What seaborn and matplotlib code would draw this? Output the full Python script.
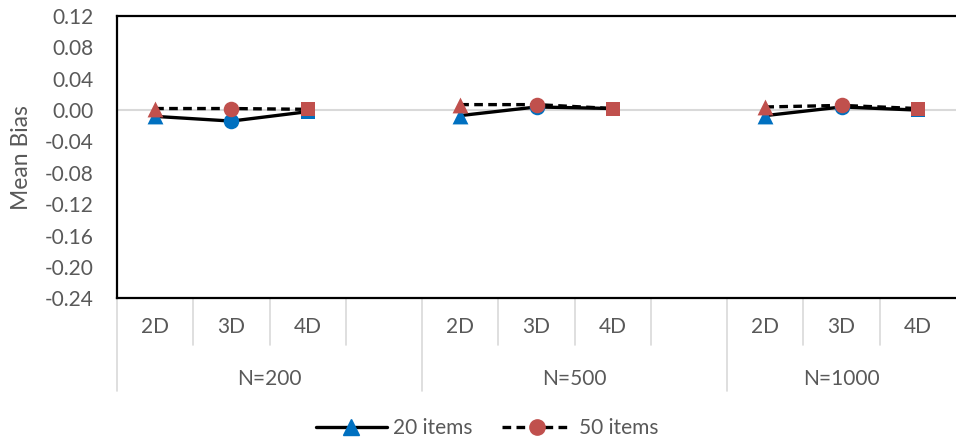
import numpy as np
import pandas as pd
import seaborn as sns
import matplotlib.pyplot as plt
import matplotlib.transforms as mtransforms
from matplotlib.lines import Line2D

# ---- data -------------------------------------------------------------
sample_sizes = ["N=200", "N=500", "N=1000"]
dimensions = ["2D", "3D", "4D"]
series_names = ["20 items", "50 items"]
bias_20_items = [-0.008, -0.014, -0.002, -0.007, 0.004, 0.002, -0.007, 0.004, 0.000]
bias_50_items = [0.002, 0.002, 0.001, 0.007, 0.007, 0.002, 0.004, 0.006, 0.002]
y_ticks = [-0.24, -0.20, -0.16, -0.12, -0.08, -0.04, 0.00, 0.04, 0.08, 0.12]

# ---- style ------------------------------------------------------------
sns.set_theme(style="white")
plt.rcParams["font.family"] = ["Lato", "DejaVu Sans"]
plt.rcParams["axes.unicode_minus"] = False

TEXT = "#595959"
GRID = "#d9d9d9"
BLUE = "#0070C0"
RED = "#C0504D"
FS = 15
marker_map = {"2D": "^", "3D": "o", "4D": "s"}
marker_size = {"2D": 130, "3D": 125, "4D": 115}

# tidy table: each sample-size block takes 4 slots (3 dims + a spacer)
rows = []
for name, values in zip(series_names, [bias_20_items, bias_50_items]):
    for g, n in enumerate(sample_sizes):
        for d, dim in enumerate(dimensions):
            rows.append({"series": name, "group": n, "dim": dim,
                         "pos": g * 4 + d, "bias": values[g * 3 + d]})
df = pd.DataFrame(rows)

fig = plt.figure(figsize=(9.56, 4.42), dpi=100)
ax = fig.add_axes([117 / 956, 1 - 298.3 / 442, 1 - 117 / 956, (298.3 - 16) / 442])

# horizontal category axis line at zero
ax.axhline(0, color=GRID, lw=1.5, zorder=1)

dash = (0, (2.6, 1.6))
styles = {"20 items": (BLUE, "-"), "50 items": (RED, dash)}
for k, name in enumerate(series_names):
    color, ls = styles[name]
    sub = df[df["series"] == name]
    sns.lineplot(data=sub, x="pos", y="bias", units="group", estimator=None,
                 color="black", lw=2.4, linestyle=ls, ax=ax, legend=False,
                 zorder=3 + 2 * k)
    for dim in dimensions:
        part = sub[sub["dim"] == dim]
        sns.scatterplot(data=part, x="pos", y="bias", marker=marker_map[dim],
                        s=marker_size[dim], color=color, linewidth=0,
                        ax=ax, legend=False, zorder=4 + 2 * k)

ax.set_xlim(-0.5, 10.5)
ax.set_ylim(-0.24, 0.12)
ax.set_yticks(y_ticks)
ax.set_yticklabels([f"{v:.2f}" for v in y_ticks], color=TEXT, fontsize=FS)
ax.set_xticks([])
ax.set_xlabel("")
ax.set_ylabel("Mean Bias", color=TEXT, fontsize=16.5)
ax.yaxis.set_label_coords(-(117 - 32) / 839, 0.5)
ax.tick_params(axis="y", length=0, pad=17)

for side in ["left", "top", "bottom"]:
    ax.spines[side].set_color("black")
    ax.spines[side].set_linewidth(1.6)
ax.spines["right"].set_visible(False)

# multi-level category axis below the plot
trans = mtransforms.blended_transform_factory(ax.transData, ax.transAxes)
h = 298.3 - 16
short_end = -(345 - 298.3) / h
long_end = -(391 - 298.3) / h
for x in [0.5, 1.5, 2.5, 4.5, 5.5, 6.5, 8.5, 9.5]:
    ax.plot([x, x], [0, short_end], transform=trans, color=GRID, lw=1.2,
            clip_on=False, zorder=0)
for x in [-0.5, 3.5, 7.5]:
    ax.plot([x, x], [0, long_end], transform=trans, color=GRID, lw=1.2,
            clip_on=False, zorder=0)

row1 = -(327 - 298.3) / h
row2 = -(379 - 298.3) / h
for g, n in enumerate(sample_sizes):
    for d, dim in enumerate(dimensions):
        ax.text(g * 4 + d, row1, dim, transform=trans, ha="center", va="center",
                color=TEXT, fontsize=FS)
    span_end = min(g * 4 + 3.5, 10.5)
    ax.text((g * 4 - 0.5 + span_end) / 2, row2, n, transform=trans,
            ha="center", va="center", color=TEXT, fontsize=FS)

handles = [
    Line2D([], [], color="black", lw=2.4, ls="-", marker="^", markersize=11,
           markerfacecolor=BLUE, markeredgecolor=BLUE),
    Line2D([], [], color="black", lw=2.4, ls=dash, marker="o",
           markersize=11, markerfacecolor=RED, markeredgecolor=RED),
]
leg = fig.legend(handles, series_names, loc="center",
                 bbox_to_anchor=(487 / 956, 1 - 428 / 442),
                 ncol=2, frameon=False, fontsize=FS, handlelength=3.4,
                 columnspacing=1.4, handletextpad=0.3, numpoints=1)
for t in leg.get_texts():
    t.set_color(TEXT)

fig.savefig("out.png", dpi=100)
